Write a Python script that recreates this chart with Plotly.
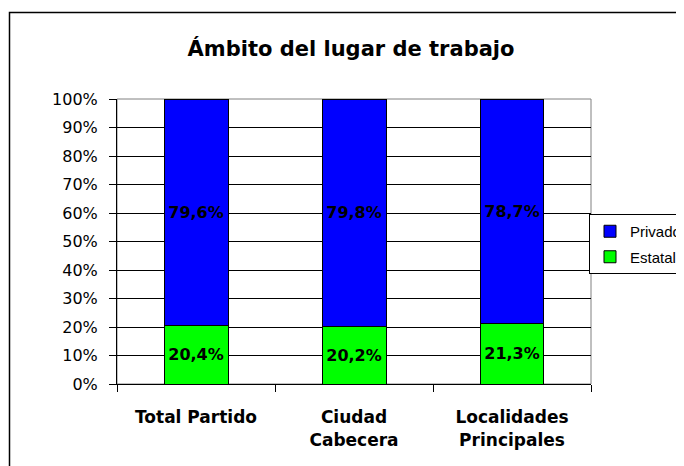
import plotly.graph_objects as go

categories = ["Total Partido", "Ciudad<br>Cabecera", "Localidades<br>Principales"]
estatal = [20.4, 20.2, 21.3]
privado = [79.6, 79.8, 78.7]
series_names = ["Estatal", "Privado"]
y_ticks = [0, 10, 20, 30, 40, 50, 60, 70, 80, 90, 100]
y_tick_labels = [f"{v}%" for v in y_ticks]
title_text = "Ámbito del lugar de trabajo"

# page has an 8px body margin; the figure is sized to fit the 684x466 window
OFF = 8
W, H = 684 - OFF, 466 - OFF
ML, MR, MT, MB = 117 - OFF, W - (591 - OFF), 99 - OFF, H - (384 - OFF)
PW, PH = W - ML - MR, H - MT - MB

def fmt(v):
    return f"{v:.1f}".replace(".", ",") + "%"

FONT = "DejaVu Sans"

def px_x(p):
    return (p - OFF - ML) / PW

def px_y(p):
    return (H - MB - (p - OFF)) / PH

fig = go.Figure()
fig.add_trace(go.Bar(
    x=categories, y=estatal, name=series_names[0], legendgroup="e", legendrank=2,
    marker=dict(color="#00FF00", line=dict(color="black", width=1)),
    width=0.405,
    text=[fmt(v) for v in estatal], textposition="inside",
    insidetextanchor="middle", textangle=0, constraintext="none",
    textfont=dict(family=FONT, size=16, color="black", weight="bold"),
    hoverinfo="skip",
))
fig.add_trace(go.Bar(
    x=categories, y=privado, name=series_names[1], legendgroup="p", legendrank=1,
    marker=dict(color="#0000FF", line=dict(color="black", width=1)),
    width=0.405,
    text=[fmt(v) for v in privado], textposition="inside",
    insidetextanchor="middle", textangle=0, constraintext="none",
    textfont=dict(family=FONT, size=16, color="black", weight="bold"),
    hoverinfo="skip",
))

fig.update_layout(
    width=W, height=H,
    margin=dict(l=ML, r=MR, t=MT, b=MB, autoexpand=False),
    barmode="stack",
    paper_bgcolor="white", plot_bgcolor="white",
    font=dict(family=FONT, color="black"),
    title=dict(text=f"<b>{title_text}</b>", x=(351 - OFF) / W, xref="container", xanchor="center",
               y=1 - (49 - OFF) / H, yref="container", yanchor="middle",
               font=dict(family=FONT, size=21, color="black")),
    xaxis=dict(showgrid=False, showline=True, linecolor="black", linewidth=1,
               ticks="outside", tickson="boundaries", ticklen=7, tickcolor="black",
               tickfont=dict(family=FONT, size=17, color="black", weight="bold"),
               ticklabelstandoff=18),
    yaxis=dict(range=[0, 100], tickvals=y_ticks, ticktext=y_tick_labels,
               showgrid=True, gridcolor="black", gridwidth=1,
               showline=True, linecolor="black", linewidth=1,
               ticks="outside", ticklen=7, tickcolor="black",
               tickfont=dict(family=FONT, size=16, color="black"),
               ticklabelstandoff=8, zeroline=False),
    legend=dict(x=px_x(589), y=px_y(214), xanchor="left", yanchor="top",
                traceorder="grouped", tracegroupgap=3,
                bordercolor="black", borderwidth=1, bgcolor="white",
                font=dict(family="Liberation Sans", size=15, color="black")),
    shapes=[
        dict(type="rect", xref="paper", yref="paper", x0=0, x1=1, y0=0, y1=1,
             line=dict(color="#808080", width=1), layer="below"),
        dict(type="rect", xref="paper", yref="paper",
             x0=px_x(9.5), x1=px_x(800), y0=px_y(560), y1=px_y(12.5),
             line=dict(color="black", width=1.5), layer="below"),
    ],
)

fig.write_html("out.html")
